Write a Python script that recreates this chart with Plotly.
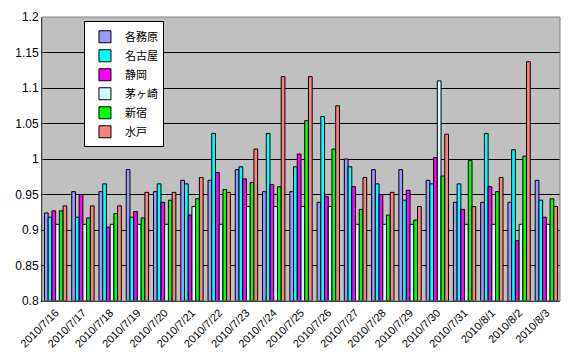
import plotly.graph_objects as go

dates = ["2010/7/16", "2010/7/17", "2010/7/18", "2010/7/19", "2010/7/20", "2010/7/21",
         "2010/7/22", "2010/7/23", "2010/7/24", "2010/7/25", "2010/7/26", "2010/7/27",
         "2010/7/28", "2010/7/29", "2010/7/30", "2010/7/31", "2010/8/1", "2010/8/2", "2010/8/3"]

kakamigahara = [0.924, 0.954, 0.954, 0.985, 0.954, 0.970, 0.970, 0.985, 0.954, 0.954,
                0.939, 1.000, 0.985, 0.985, 0.970, 0.939, 0.939, 0.939, 0.970]
nagoya = [0.918, 0.918, 0.965, 0.918, 0.965, 0.965, 1.036, 0.989, 1.036, 0.989,
          1.060, 0.989, 0.965, 0.942, 0.965, 0.965, 1.036, 1.013, 0.942]
shizuoka = [0.927, 0.950, 0.904, 0.926, 0.939, 0.921, 0.981, 0.972, 0.964, 1.007,
            0.947, 0.961, 0.950, 0.956, 1.002, 0.929, 0.961, 0.885, 0.918]
chigasaki = [0.908, 0.908, 0.908, 0.908, 0.908, 0.933, 0.908, 0.933, 0.933, 0.933,
             0.933, 0.908, 0.908, 0.908, 1.110, 0.908, 0.908, 0.908, 0.908]
shinjuku = [0.927, 0.917, 0.923, 0.917, 0.942, 0.944, 0.957, 0.967, 0.961, 1.054,
            1.014, 0.929, 0.921, 0.914, 0.976, 0.998, 0.954, 1.004, 0.944]
mito = [0.934, 0.934, 0.934, 0.953, 0.953, 0.974, 0.953, 1.014, 1.116, 1.116,
        1.075, 0.974, 0.953, 0.933, 1.035, 0.933, 0.974, 1.137, 0.933]

series_names = ["各務原", "名古屋", "静岡", "茅ヶ崎", "新宿", "水戸"]
series_values = [kakamigahara, nagoya, shizuoka, chigasaki, shinjuku, mito]
series_colors = ["#9999FF", "#00FFFF", "#FF00FF", "#CCFFFF", "#00FF00", "#FF8080"]

BASE = 0.8

fig = go.Figure()
for name, vals, col in zip(series_names, series_values, series_colors):
    fig.add_trace(go.Bar(
        x=dates, y=[v - BASE for v in vals], base=BASE, name=name,
        customdata=vals,
        hovertemplate="%{x}<br>%{customdata}<extra>" + name + "</extra>",
        marker=dict(color=col, line=dict(color="black", width=1)),
    ))

fig.update_layout(
    width=570, height=363,
    margin=dict(l=42, r=10, t=14, b=62),
    paper_bgcolor="white",
    plot_bgcolor="#C0C0C0",
    barmode="group",
    bargap=0.18,
    bargroupgap=0,
    font=dict(family="Liberation Sans, Arial", size=12, color="black"),
    showlegend=True,
    legend=dict(
        x=0.081, y=0.985, xanchor="left", yanchor="top",
        bgcolor="white", bordercolor="black", borderwidth=1,
        font=dict(family="Noto Sans CJK JP", size=11, color="black"),
        tracegroupgap=0, itemwidth=30,
    ),
    xaxis=dict(
        type="category",
        tickangle=-45,
        tickfont=dict(size=11, family="Liberation Sans, Arial"),
        showline=True, linecolor="black", linewidth=1,
        showgrid=False,
        ticks="",
    ),
    yaxis=dict(
        range=[0.8, 1.2],
        dtick=0.05,
        tick0=0.8,
        showgrid=True, gridcolor="black", gridwidth=1,
        showline=True, linecolor="black", linewidth=1,
        tickfont=dict(size=12, family="Liberation Sans, Arial"),
        ticks="",
        zeroline=False,
    ),
    shapes=[dict(type="rect", xref="paper", yref="paper", x0=0, y0=0, x1=1, y1=1,
                 line=dict(color="#808080", width=1), layer="above")],
)

fig.write_html("out.html")
